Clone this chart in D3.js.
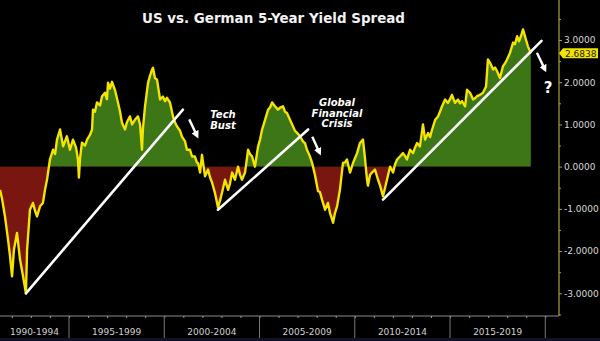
<!DOCTYPE html>
<html><head><meta charset="utf-8">
<script src="https://cdn.jsdelivr.net/npm/d3@7"></script>
<style>html,body{margin:0;padding:0;background:#000;} svg{display:block}</style>
</head><body>
<svg id="c" width="600" height="341"></svg>
<script>
// ---- data ----
const years = [1991.38,1991.48,1991.64,1991.80,1991.90,1992.01,1992.11,1992.27,1992.43,1992.59,1992.74,1992.80,1992.95,1993.11,1993.22,1993.32,1993.48,1993.63,1993.74,1993.85,1994.00,1994.16,1994.27,1994.37,1994.53,1994.69,1994.89,1995.05,1995.21,1995.37,1995.47,1995.52,1995.58,1995.68,1995.84,1995.95,1996.10,1996.21,1996.26,1996.36,1996.47,1996.63,1996.73,1996.89,1996.99,1997.05,1997.15,1997.26,1997.41,1997.57,1997.68,1997.78,1997.94,1998.04,1998.20,1998.31,1998.46,1998.62,1998.73,1998.83,1998.88,1998.99,1999.15,1999.25,1999.36,1999.41,1999.51,1999.62,1999.78,1999.93,2000.04,2000.14,2000.30,2000.46,2000.56,2000.67,2000.83,2000.93,2001.09,2001.19,2001.35,2001.46,2001.61,2001.72,2001.77,2001.88,2001.98,2002.14,2002.30,2002.40,2002.51,2002.66,2002.82,2002.93,2003.03,2003.19,2003.35,2003.45,2003.56,2003.71,2003.87,2003.98,2004.08,2004.24,2004.40,2004.50,2004.61,2004.76,2004.92,2005.03,2005.13,2005.29,2005.45,2005.55,2005.66,2005.81,2005.97,2006.08,2006.23,2006.34,2006.44,2006.60,2006.76,2006.86,2006.97,2007.13,2007.28,2007.39,2007.49,2007.65,2007.76,2007.91,2008.07,2008.17,2008.28,2008.44,2008.59,2008.70,2008.81,2008.86,2008.96,2009.07,2009.22,2009.38,2009.49,2009.59,2009.75,2009.91,2010.01,2010.12,2010.27,2010.43,2010.54,2010.64,2010.69,2010.80,2010.90,2011.06,2011.22,2011.33,2011.43,2011.48,2011.59,2011.69,2011.85,2012.01,2012.11,2012.22,2012.37,2012.53,2012.64,2012.74,2012.90,2013.06,2013.16,2013.27,2013.42,2013.58,2013.69,2013.85,2013.95,2014.06,2014.22,2014.37,2014.47,2014.58,2014.74,2014.89,2015.00,2015.10,2015.26,2015.42,2015.52,2015.63,2015.79,2015.89,2016.05,2016.21,2016.31,2016.42,2016.57,2016.73,2016.89,2016.99,2017.10,2017.26,2017.36,2017.47,2017.62,2017.78,2017.89,2017.99,2018.15,2018.31,2018.41,2018.52,2018.62,2018.73,2018.83,2018.99,2019.09,2019.24];
const spread = [-0.55,-0.75,-1.18,-1.73,-2.10,-2.60,-1.97,-1.57,-2.20,-2.60,-3.00,-1.97,-1.02,-0.86,-1.05,-1.18,-0.94,-0.86,-0.55,-0.30,0.17,0.40,0.30,0.64,0.88,0.48,0.72,0.40,0.64,0.45,0.17,-0.26,0.20,0.57,0.50,0.64,0.75,0.88,1.35,1.30,1.52,1.45,1.66,1.75,1.60,1.99,1.85,2.01,1.82,1.52,1.30,1.04,0.88,1.05,1.19,1.00,1.11,1.19,1.00,0.40,0.90,1.43,1.99,2.15,2.30,2.34,2.10,2.06,1.59,1.66,1.55,1.63,1.52,1.19,1.05,0.95,0.85,0.71,0.60,0.40,0.40,0.24,0.24,0.09,0.09,-0.14,0.28,-0.23,-0.07,-0.25,-0.38,-0.62,-0.97,-0.80,-0.62,-0.31,-0.55,-0.40,-0.14,-0.31,0.00,-0.20,-0.31,-0.14,0.40,0.30,0.24,0.00,0.47,0.65,0.87,1.11,1.35,1.40,1.52,1.43,1.35,1.40,1.43,1.30,1.27,1.11,0.95,0.85,0.80,0.72,0.60,0.55,0.40,0.24,0.09,-0.20,-0.58,-0.60,-0.78,-1.02,-0.86,-1.10,-1.25,-1.33,-1.10,-0.94,-0.55,0.09,0.10,0.17,-0.14,0.09,0.20,0.32,0.56,0.64,0.17,-0.30,-0.45,-0.20,-0.14,-0.07,-0.31,-0.45,-0.62,-0.70,-0.50,-0.31,0.00,-0.14,0.05,0.17,0.24,0.32,0.25,0.17,0.40,0.32,0.45,0.56,0.48,1.00,0.64,0.80,0.70,0.88,1.11,1.19,1.30,1.43,1.59,1.51,1.60,1.70,1.51,1.59,1.50,1.55,1.43,1.82,1.75,1.59,1.62,1.67,1.70,1.75,1.90,2.54,2.46,2.30,2.35,2.26,2.10,2.38,2.45,2.54,2.70,2.94,2.90,3.09,2.97,3.10,3.25,3.00,2.85,2.6838];
const periodLabels = ["1990-1994","1995-1999","2000-2004","2005-2009","2010-2014","2015-2019"];
const periodStarts = [1990,1995,2000,2005,2010,2015];
const yTickValues = [-3,-2,-1,0,1,2,3];
const yMinorTicks = [-3.5,-2.5,-1.5,-0.5,0.5,1.5,2.5,3.5];
const trendStartYear = [1992.74,2002.82,2011.48];
const trendStartVal  = [-3.00,-1.02,-0.78];
const trendEndYear   = [2000.98,2007.55,2019.80];
const trendEndVal    = [1.35,0.88,2.98];
const lastValue = 2.6838;
const titleText = "US vs. German 5-Year Yield Spread";

// ---- setup ----
const svg = d3.select("#c");
const W = 600, H = 341, axisX = 559, axisY = 316;
const x = d3.scaleLinear().domain([1995, 2020]).range([69, 545.3]);
const y = d3.scaleLinear().domain([-3, 3]).range([293.3, 40]);
const data = years.map((t, i) => ({t, v: spread[i]}));

svg.append("rect").attr("width", W).attr("height", H).attr("fill", "#000");
svg.append("rect").attr("x", 0).attr("y", 338).attr("width", W).attr("height", 3).attr("fill", "#0d1428");

const defs = svg.append("defs");
defs.append("clipPath").attr("id", "above").append("rect")
  .attr("x", 0).attr("y", 0).attr("width", axisX).attr("height", y(0));
defs.append("clipPath").attr("id", "below").append("rect")
  .attr("x", 0).attr("y", y(0)).attr("width", axisX).attr("height", axisY - y(0));
defs.append("clipPath").attr("id", "plot").append("rect")
  .attr("x", 0).attr("y", 0).attr("width", axisX).attr("height", axisY);

const area = d3.area().x(d => x(d.t)).y0(y(0)).y1(d => y(d.v));
svg.append("path").datum(data).attr("d", area).attr("fill", "#3c7617").attr("clip-path", "url(#above)");
svg.append("path").datum(data).attr("d", area).attr("fill", "#7a1610").attr("clip-path", "url(#below)");

const line = d3.line().x(d => x(d.t)).y(d => y(d.v));
svg.append("path").datum(data).attr("d", line).attr("fill", "none")
  .attr("stroke", "#f4e400").attr("stroke-width", 2.4).attr("stroke-linejoin", "round")
  .attr("clip-path", "url(#plot)");

// trend lines
const g = svg.append("g").attr("clip-path", "url(#plot)");
trendStartYear.forEach((t0, i) => {
  g.append("line")
    .attr("x1", x(t0)).attr("y1", y(trendStartVal[i]))
    .attr("x2", x(trendEndYear[i])).attr("y2", y(trendEndVal[i]))
    .attr("stroke", "#fff").attr("stroke-width", 2.6).attr("stroke-linecap", "round");
});

// arrows
defs.append("marker").attr("id", "ah").attr("viewBox", "0 0 10 10").attr("refX", 6).attr("refY", 5)
  .attr("markerWidth", 3.2).attr("markerHeight", 3.2).attr("orient", "auto")
  .append("path").attr("d", "M0,0 L10,5 L0,10 Z").attr("fill", "#fff");
const arrowFrom = [[2001.31, 1.12],[2007.77, 0.71],[2019.56, 2.70]];
const arrowTo   = [[2001.72, 0.73],[2008.15, 0.33],[2019.98, 2.30]];
arrowFrom.forEach((a, i) => {
  svg.append("line").attr("x1", x(a[0])).attr("y1", y(a[1]))
    .attr("x2", x(arrowTo[i][0])).attr("y2", y(arrowTo[i][1]))
    .attr("stroke", "#fff").attr("stroke-width", 2.4).attr("marker-end", "url(#ah)");
});

// annotations
const annFont = "'DejaVu Sans', sans-serif";
function ann(lines, cx, baseY, step) {
  lines.forEach((s, i) => {
    svg.append("text").attr("x", cx).attr("y", baseY + i * step).attr("text-anchor", "middle")
      .attr("font-family", annFont).attr("font-weight", "bold").attr("font-style", "italic")
      .attr("font-size", 10).attr("fill", "#fff").text(s);
  });
}
ann(["Tech", "Bust"], 223, 117.8, 11.5);
ann(["Global", "Financial", "Crisis"], 337, 105.8, 10.8);
svg.append("text").attr("x", 548).attr("y", 93).attr("text-anchor", "middle")
  .attr("font-family", annFont).attr("font-weight", "bold").attr("font-size", 15)
  .attr("fill", "#fff").text("?");

// x axis
svg.append("line").attr("x1", 0).attr("x2", axisX).attr("y1", axisY).attr("y2", axisY)
  .attr("stroke", "#8a8a8a").attr("stroke-width", 1);
const xAxis = d3.axisBottom(x).tickValues(d3.range(1992, 2021)).tickSize(2).tickFormat("");
const xg = svg.append("g").attr("transform", `translate(0,${axisY})`).call(xAxis);
xg.select(".domain").remove();
xg.selectAll(".tick line").attr("stroke", "#9a9a9a");
periodStarts.forEach((p, i) => {
  const x0 = Math.max(0, x(p)), x1 = x(p + 5);
  if (x(p) > 0) svg.append("line").attr("x1", x(p)).attr("x2", x(p)).attr("y1", axisY).attr("y2", 338)
    .attr("stroke", "#777").attr("stroke-width", 1);
  svg.append("text").attr("x", (x0 + x1) / 2).attr("y", 334.5).attr("text-anchor", "middle")
    .attr("font-family", "'DejaVu Sans', sans-serif").attr("font-size", 9).attr("fill", "#d0d0d0")
    .text(periodLabels[i]);
});
svg.append("line").attr("x1", x(2020)).attr("x2", x(2020)).attr("y1", axisY).attr("y2", 338)
  .attr("stroke", "#777").attr("stroke-width", 1);

// y axis
svg.append("line").attr("x1", axisX).attr("x2", axisX).attr("y1", 0).attr("y2", axisY)
  .attr("stroke", "#a9a23c").attr("stroke-width", 1.2);
const yAxis = d3.axisRight(y).tickValues(yTickValues).tickSize(3).tickPadding(2)
  .tickFormat(d => d.toFixed(4));
const yg = svg.append("g").attr("transform", `translate(${axisX},0)`).call(yAxis);
yg.select(".domain").remove();
yg.selectAll(".tick line").attr("stroke", "#a9a23c");
yg.selectAll(".tick text").attr("fill", "#d8d8d8").attr("font-size", 9)
  .attr("font-family", "'DejaVu Sans', sans-serif");
const ymg = svg.append("g").attr("transform", `translate(${axisX},0)`)
  .call(d3.axisRight(y).tickValues(yMinorTicks).tickSize(2).tickFormat(""));
ymg.select(".domain").remove();
ymg.selectAll(".tick line").attr("stroke", "#a9a23c");

// last value tag
const ty = y(lastValue);
svg.append("path")
  .attr("d", `M${axisX},${ty} L${axisX + 4},${ty - 5} L598,${ty - 5} L598,${ty + 5} L${axisX + 4},${ty + 5} Z`)
  .attr("fill", "#f2e300");
svg.append("text").attr("x", 565).attr("y", ty + 3.3)
  .attr("font-family", "'DejaVu Sans', sans-serif").attr("font-size", 9).attr("fill", "#222")
  .text(lastValue.toFixed(4));

// title
svg.append("text").attr("x", 142).attr("y", 22.5)
  .attr("font-family", "'DejaVu Sans', sans-serif").attr("font-weight", "bold").attr("font-size", 14)
  .attr("fill", "#f2f2f2").attr("textLength", 263).attr("lengthAdjust", "spacingAndGlyphs")
  .text(titleText);
</script>
</body></html>
